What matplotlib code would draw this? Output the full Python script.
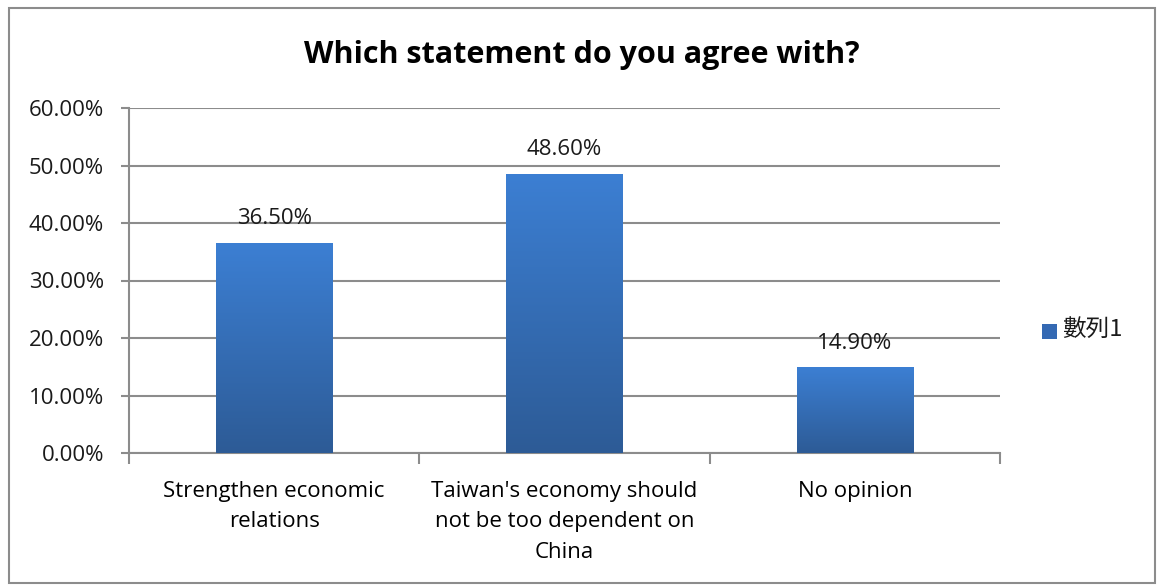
import matplotlib.pyplot as plt
import matplotlib.colors as mcolors
import numpy as np
from matplotlib.patches import Rectangle

categories = ['Strengthen economic\nrelations',
              "Taiwan's economy should\nnot be too dependent on\nChina",
              'No opinion']
values = [36.5, 48.6, 14.9]
series_name = '數列1'

FONT = ['Open Sans', 'Noto Sans CJK TC', 'DejaVu Sans']
plt.rcParams['font.family'] = FONT

W, H = 1160, 585
fig = plt.figure(figsize=(W / 100, H / 100), dpi=100)
ax = fig.add_axes([129 / W, 1 - 453 / H, (1000 - 129) / W, (453 - 108) / H])

# outer chart border
fig.patches.append(Rectangle((9 / W, 1 - 583 / H), 1146 / W, 575 / H,
                             transform=fig.transFigure, fill=False,
                             edgecolor='#8c8c8c', linewidth=1.5))

grad = mcolors.LinearSegmentedColormap.from_list('bar', ['#2d5b96', '#3c7fd3'])
x = np.arange(len(categories))
bars = ax.bar(x, values, width=0.4, color='none', zorder=3)
for b, v in zip(bars, values):
    bx, by = b.get_x(), b.get_y()
    bw, bh = b.get_width(), b.get_height()
    img = ax.imshow(np.linspace(0, 1, 256).reshape(-1, 1), cmap=grad, origin='lower',
                    extent=[bx, bx + bw, by, by + bh], aspect='auto', zorder=3)
    img.set_clip_path(b)
    ax.text(bx + bw / 2, v + 2.4, '%.2f%%' % v, ha='center', va='bottom',
            fontsize=16, color='#1a1a1a', zorder=4)

ax.set_xlim(-0.5, 2.5)
ax.set_ylim(0, 60)
ax.set_yticks(np.arange(0, 61, 10))
ax.set_yticklabels(['%.2f%%' % t for t in np.arange(0, 61, 10)], fontsize=16)
ax.yaxis.grid(True, color='#8c8c8c', linewidth=1.5, zorder=0)
ax.set_axisbelow(True)

ax.set_xticks(x)
ax.set_xticklabels(categories, fontsize=16, linespacing=1.6)
ax.tick_params(axis='x', length=0, pad=20)
ax.set_xticks([-0.5, 0.5, 1.5, 2.5], minor=True)
ax.tick_params(axis='x', which='minor', length=8, width=1.5, color='#8c8c8c', direction='out')
ax.tick_params(axis='y', length=6, width=1.5, color='#8c8c8c', pad=12, labelcolor='#1a1a1a')

for side in ['top', 'right']:
    ax.spines[side].set_visible(False)
for side in ['left', 'bottom']:
    ax.spines[side].set_color('#8c8c8c')
    ax.spines[side].set_linewidth(1.5)

fig.text(582 / W, 1 - 55 / H, 'Which statement do you agree with?', ha='center', va='center',
         fontsize=22, fontweight='bold', color='#000000')

# legend
fig.patches.append(Rectangle((1042 / W, 1 - 339 / H), 15 / W, 15 / H,
                             transform=fig.transFigure, facecolor='#3469b3', edgecolor='none'))
fig.text(1062 / W, 1 - 329 / H, series_name, ha='left', va='center', fontsize=17,
         family=['Noto Sans CJK TC', 'DejaVu Sans'], color='#1a1a1a')

fig.savefig('out.png', dpi=100)
